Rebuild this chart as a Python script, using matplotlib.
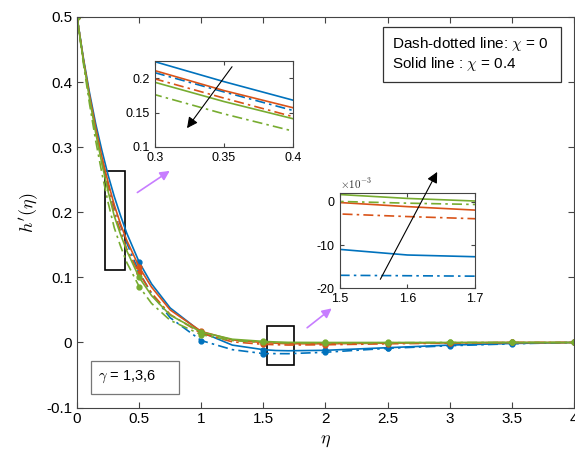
import numpy as np
import matplotlib.pyplot as plt
from matplotlib.patches import Rectangle

plt.rcParams['font.family'] = ['Liberation Sans', 'DejaVu Sans']
plt.rcParams['mathtext.fontset'] = 'cm'

# eta grid
eta = [0, 0.05, 0.1, 0.15, 0.2, 0.25, 0.3, 0.35, 0.4, 0.5, 0.6, 0.75, 1.0,
       1.25, 1.5, 1.6, 1.7, 2.0, 2.5, 3.0, 3.5, 4.0]

# solid lines: chi = 0.4
blue_solid = [0.5, 0.438, 0.384, 0.336, 0.295, 0.257, 0.224, 0.195, 0.168, 0.1235, 0.090, 0.053, 0.016,
              -0.004, -0.0110, -0.0123, -0.0127, -0.0120, -0.0080, -0.0040, -0.0015, 0.0]
orange_solid = [0.5, 0.436, 0.380, 0.330, 0.285, 0.246, 0.211, 0.182, 0.157, 0.116, 0.085, 0.050, 0.017,
                0.004, -0.00015, -0.0011, -0.0019, -0.0020, -0.0010, -0.0005, 0.0, 0.0]
green_solid = [0.5, 0.434, 0.375, 0.322, 0.275, 0.232, 0.194, 0.166, 0.141, 0.100, 0.072, 0.042, 0.016,
               0.005, 0.0017, 0.0008, 0.0002, 0.0, 0.0, 0.0, 0.0, 0.0]

# dash-dotted lines: chi = 0
blue_dd = [0.5, 0.435, 0.377, 0.326, 0.282, 0.243, 0.208, 0.180, 0.153, 0.108, 0.075, 0.038, 0.003,
           -0.011, -0.0170, -0.0171, -0.0172, -0.0150, -0.0090, -0.0050, -0.0020, 0.0]
orange_dd = [0.5, 0.434, 0.375, 0.323, 0.277, 0.236, 0.199, 0.171, 0.144, 0.106, 0.076, 0.043, 0.014,
             0.001, -0.0028, -0.0034, -0.0039, -0.0035, -0.0020, -0.0010, 0.0, 0.0]
green_dd = [0.5, 0.430, 0.367, 0.310, 0.260, 0.215, 0.176, 0.148, 0.123, 0.086, 0.060, 0.034, 0.012,
            0.003, 0.0001, -0.0003, -0.0006, -0.0008, -0.0004, 0.0, 0.0, 0.0]

blue = '#0072BD'
orange = '#D95319'
green = '#77AC30'
dashdot = (0, (6, 2.5, 1.5, 2.5))

series = [
    (blue_solid, blue, '-'),
    (blue_dd, blue, dashdot),
    (orange_solid, orange, '-'),
    (orange_dd, orange, dashdot),
    (green_solid, green, '-'),
    (green_dd, green, dashdot),
]

# marker positions at every 0.5
mark_idx = [i for i, e in enumerate(eta) if abs(e * 2 - round(e * 2)) < 1e-9]

fig = plt.figure(figsize=(5.75, 4.59), dpi=100)
ax = fig.add_axes([0.134, 0.112, 0.864, 0.851])

for ys, c, ls in series:
    ax.plot(eta, ys, color=c, linestyle=ls, linewidth=1.2,
            marker='o', markersize=3.5, markevery=mark_idx)

ax.set_xlim(0, 4)
ax.set_ylim(-0.1, 0.5)
ax.set_xticks(np.arange(0, 4.01, 0.5))
ax.set_xticklabels(['0', '0.5', '1', '1.5', '2', '2.5', '3', '3.5', '4'])
ax.set_yticks(np.arange(-0.1, 0.51, 0.1))
ax.set_yticklabels(['-0.1', '0', '0.1', '0.2', '0.3', '0.4', '0.5'])
ax.tick_params(direction='in', top=True, right=True, labelsize=11, length=4, color='#444444')
for s in ax.spines.values():
    s.set_color('#444444')
    s.set_linewidth(0.8)
ax.set_xlabel(r'$\eta$', fontsize=13)
ax.set_ylabel(r"$h'(\eta)$", fontsize=13)

# zoom rectangles
ax.add_patch(Rectangle((0.225, 0.112), 0.16, 0.151, fill=False, edgecolor='black', linewidth=1.2))
ax.add_patch(Rectangle((1.53, -0.035), 0.22, 0.061, fill=False, edgecolor='black', linewidth=1.2))

# purple arrows
ax.annotate('', xy=(0.765, 0.266), xytext=(0.467, 0.228),
            arrowprops=dict(arrowstyle='-|>', color='#C77DFF', lw=1.2, mutation_scale=14))
ax.annotate('', xy=(2.068, 0.055), xytext=(1.835, 0.020),
            arrowprops=dict(arrowstyle='-|>', color='#C77DFF', lw=1.2, mutation_scale=14))

# text boxes
ax.add_patch(Rectangle((0.616, 0.834), 0.358, 0.140, transform=ax.transAxes, facecolor='white',
                       edgecolor='#333333', linewidth=0.9, zorder=5))
ax.text(0.634, 0.931, 'Dash-dotted line: $\\chi$ = 0', transform=ax.transAxes,
        ha='left', va='center', fontsize=11, zorder=6)
ax.text(0.634, 0.879, 'Solid line : $\\chi$ = 0.4', transform=ax.transAxes,
        ha='left', va='center', fontsize=11, zorder=6)

ax.add_patch(Rectangle((0.028, 0.035), 0.177, 0.085, transform=ax.transAxes, facecolor='white',
                       edgecolor='#777777', linewidth=0.9, zorder=5))
ax.text(0.042, 0.078, '$\\gamma$ = 1,3,6', transform=ax.transAxes, ha='left', va='center',
        fontsize=10.5, zorder=6)

# inset 1
ax1 = fig.add_axes([0.2696, 0.680, 0.240, 0.187])
for ys, c, ls in series:
    ax1.plot(eta, ys, color=c, linestyle=ls, linewidth=1.2)
ax1.set_xlim(0.3, 0.4)
ax1.set_ylim(0.1, 0.225)
ax1.set_xticks([0.3, 0.35, 0.4])
ax1.set_xticklabels(['0.3', '0.35', '0.4'])
ax1.set_yticks([0.1, 0.15, 0.2])
ax1.set_yticklabels(['0.1', '0.15', '0.2'])
ax1.tick_params(direction='in', top=True, right=True, labelsize=9, length=3, color='#444444')
for s in ax1.spines.values():
    s.set_color('#444444')
ax1.annotate('', xy=(0.322, 0.124), xytext=(0.357, 0.220),
             arrowprops=dict(arrowstyle='-|>', color='black', lw=0.8, mutation_scale=16))

# inset 2
ax2 = fig.add_axes([0.591, 0.372, 0.235, 0.207])
for ys, c, ls in series:
    ax2.plot(eta, ys, color=c, linestyle=ls, linewidth=1.2)
ax2.set_xlim(1.5, 1.7)
ax2.set_ylim(-0.02, 0.002)
ax2.set_xticks([1.5, 1.6, 1.7])
ax2.set_xticklabels(['1.5', '1.6', '1.7'])
ax2.set_yticks([-0.02, -0.01, 0.0])
ax2.set_yticklabels(['-20', '-10', '0'])
ax2.text(0.0, 1.02, r'$\times 10^{-3}$', transform=ax2.transAxes, ha='left', va='bottom',
         fontsize=8, color='#333333')
ax2.tick_params(direction='in', top=True, right=True, labelsize=9, length=3, color='#444444')
for s in ax2.spines.values():
    s.set_color('#444444')
ax2.annotate('', xy=(1.646, 0.0075), xytext=(1.558, -0.0185),
             arrowprops=dict(arrowstyle='-|>', color='black', lw=0.8, mutation_scale=16),
             annotation_clip=False)

fig.savefig('out.png', dpi=100)
